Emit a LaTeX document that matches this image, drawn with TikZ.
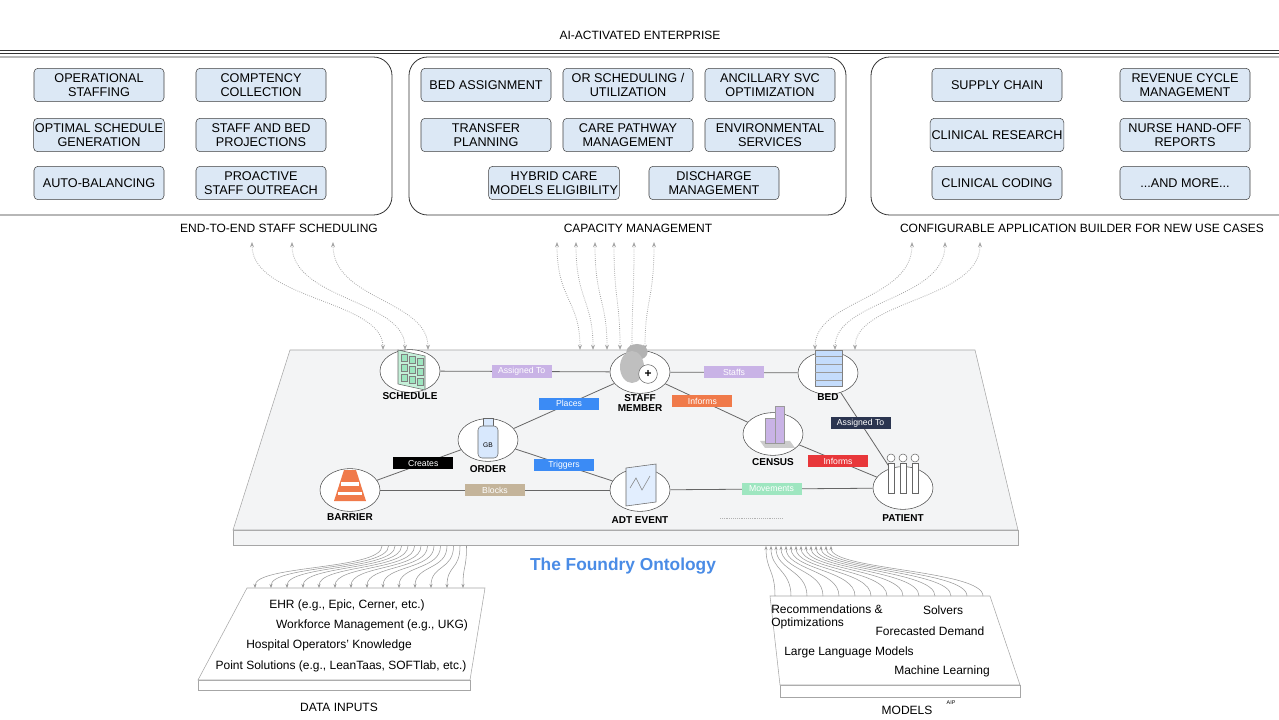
\documentclass[tikz,border=0pt]{standalone}
\usepackage{fontspec}
\setmainfont{Liberation Sans}
\usetikzlibrary{arrows.meta,shapes.geometric}
\definecolor{boxfill}{HTML}{DCE8F5}
\definecolor{lav}{HTML}{C9B3E6}
\definecolor{bl}{HTML}{3B8BF5}
\definecolor{org}{HTML}{F07A4A}
\definecolor{navy}{HTML}{2B3550}
\definecolor{rd}{HTML}{E8373A}
\definecolor{tan}{HTML}{C4B49A}
\definecolor{mint}{HTML}{9EE6C0}
\definecolor{plat}{HTML}{F3F4F5}
\definecolor{fblue}{HTML}{4A8CE6}
\begin{document}
\begin{tikzpicture}[x=0.75pt,y=-0.75pt,
  app/.style={draw=black!75,fill=boxfill,rounded corners=3pt,minimum width=97.5pt,minimum height=25pt,align=center,font=\fontsize{9.5}{10.5}\selectfont,inner sep=1pt},
  panel/.style={draw=black!80,rounded corners=14pt,line width=0.6pt},
  head/.style={font=\fontsize{9}{10}\selectfont},
  ent/.style={ellipse,draw=black!70,fill=white,minimum width=45pt,minimum height=32pt,inner sep=0pt},
  elab/.style={font=\fontsize{6.5}{7}\selectfont,text=white,fill=#1,inner sep=1.5pt,minimum width=45pt,minimum height=9pt},
  nlab/.style={font=\bfseries\fontsize{7.5}{8}\selectfont,align=center},
  dar/.style={draw=gray!70,densely dotted,line width=0.6pt,-{Stealth[length=4pt]}},
  sar/.style={draw=gray!80,line width=0.4pt,-{Stealth[length=3pt]}},
  link/.style={draw=black!60,line width=0.6pt}]
\useasboundingbox (0,0) rectangle (1279,720);
\fill[white] (0,0) rectangle (1279,720);
% header
\node[head] (title) at (640,35) {AI-ACTIVATED ENTERPRISE};
\draw[black!80] (0,50) -- (1279,50);
\draw[black!80] (0,53) -- (1279,53);
% panels
\draw[panel] (-20,57) rectangle (392,215);
\draw[panel] (409,57) rectangle (846,215);
\draw[panel] (871,57) rectangle (1300,215);
% left boxes
\node[app] (a1) at (99,85) {OPERATIONAL\\STAFFING};
\node[app] (a2) at (261,85) {COMPTENCY\\COLLECTION};
\node[app] (a3) at (99,135) {OPTIMAL SCHEDULE\\GENERATION};
\node[app] (a4) at (261,135) {STAFF AND BED\\PROJECTIONS};
\node[app] (a5) at (99,183) {AUTO-BALANCING};
\node[app] (a6) at (261,183) {PROACTIVE\\STAFF OUTREACH};
% middle boxes
\node[app] (b1) at (486,85) {BED ASSIGNMENT};
\node[app] (b2) at (628,85) {OR SCHEDULING /\\UTILIZATION};
\node[app] (b3) at (770,85) {ANCILLARY SVC\\OPTIMIZATION};
\node[app] (b4) at (486,135) {TRANSFER\\PLANNING};
\node[app] (b5) at (628,135) {CARE PATHWAY\\MANAGEMENT};
\node[app] (b6) at (770,135) {ENVIRONMENTAL\\SERVICES};
\node[app] (b7) at (554,183) {HYBRID CARE\\MODELS ELIGIBILITY};
\node[app] (b8) at (714,183) {DISCHARGE\\MANAGEMENT};
% right boxes
\node[app] (c1) at (997,85) {SUPPLY CHAIN};
\node[app] (c2) at (1185,85) {REVENUE CYCLE\\MANAGEMENT};
\node[app] (c3) at (997,135) {CLINICAL RESEARCH};
\node[app] (c4) at (1185,135) {NURSE HAND-OFF\\REPORTS};
\node[app] (c5) at (997,183) {CLINICAL CODING};
\node[app] (c6) at (1185,183) {...AND MORE...};
% headings
\node[head] (h1) at (279,228) {END-TO-END STAFF SCHEDULING};
\node[head] (h2) at (638,228) {CAPACITY MANAGEMENT};
\node[head] (h3) at (1082,228) {CONFIGURABLE APPLICATION BUILDER FOR NEW USE CASES};
% dotted arrows top
\foreach \xa/\xb in {252/383,292/405,333/428}
  \draw[dar,{Stealth[length=4pt]}-{Stealth[length=4pt]}] (\xa,242) .. controls (\xa,300) and (\xb,300) .. (\xb,350);
\foreach \xa/\xb in {557/580,576/593,595/607,614/620,634/632,654/645}
  \draw[dar,{Stealth[length=4pt]}-{Stealth[length=4pt]}] (\xa,242) .. controls (\xa,300) and (\xb,300) .. (\xb,350);
\foreach \xa/\xb in {912/815,945/835,980/855}
  \draw[dar,{Stealth[length=4pt]}-{Stealth[length=4pt]}] (\xa,242) .. controls (\xa,300) and (\xb,300) .. (\xb,350);
% platform
\draw[gray!70,fill=plat] (233,530) rectangle (1018,545);
\draw[gray!70,fill=plat] (290,350) -- (975,350) -- (1018,530) -- (233,530) -- cycle;
% entities
\node[ent] (sch) at (410,371) {};
\node[ent] (stf) at (640,372) {};
\node[ent] (bed) at (828,373) {};
\node[ent] (ord) at (488,440) {};
\node[ent] (cen) at (773,434) {};
\node[ent] (bar) at (350,490) {};
\node[ent] (adt) at (640,490) {};
\node[ent] (pat) at (903,488) {};
% links
\draw[link] (sch) -- node[elab=lav,pos=0.48]{Assigned To} (stf);
\draw[link] (stf) -- node[elab=lav]{Staffs} (bed);
\draw[link] (ord) -- node[elab=bl,pos=0.55]{Places} (stf);
\draw[link] (stf) -- node[elab=org,pos=0.45]{Informs} (cen);
\draw[link] (bed) -- node[elab=navy,pos=0.4]{Assigned To} (pat);
\draw[link] (bar) -- node[elab=black,pos=0.55]{Creates} (ord);
\draw[link] (ord) -- node[elab=bl,pos=0.5]{Triggers} (adt);
\draw[link] (cen) -- node[elab=rd,pos=0.5]{Informs} (pat);
\draw[link] (bar) -- node[elab=tan,pos=0.5]{Blocks} (adt);
\draw[link] (adt) -- node[elab=mint,pos=0.5]{Movements} (pat);
% icons
\draw[black!60,fill=mint!60] (398,350) -- (425,356) -- (425,390) -- (398,384) -- cycle;
\foreach \i in {0,1,2} \foreach \j in {0,1,2}
  \draw[black!50,fill=mint] ({401+\i*8},{354+\j*10+\i*2}) rectangle ++(6,7);
\fill[gray!60] (637,352) ellipse (8pt and 6pt);
\fill[gray!50] (632,367) ellipse (9pt and 12pt);
\draw[black!60,fill=white] (648,374) circle (7pt);
\node[font=\bfseries\small] (plus) at (648,374) {+};
\draw[black!50,fill=bl!30] (815,350) rectangle (842,386);
\foreach \j in {0,1,2,3} \draw[black!40] (815,{356+\j*8}) -- (842,{356+\j*8});
\draw[black!60,fill=bl!20] (483,418) rectangle (493,426);
\draw[black!60,fill=bl!20,rounded corners=3pt] (478,426) rectangle (498,458);
\node[font=\tiny] (gb) at (488,445) {GB};
\fill[gray!40] (760,441) -- (790,441) -- (795,448) -- (765,448) -- cycle;
\draw[black!40,fill=lav] (765,418) rectangle (775,443);
\draw[black!40,fill=lav] (775,406) rectangle (784,443);
\fill[org] (344,470) -- (356,470) -- (366,501) -- (334,501) -- cycle;
\fill[white] (341,482) rectangle (359,486);
\fill[white] (338,492) rectangle (362,495);
\draw[black!60,fill=bl!15] (626,468) -- (656,464) -- (656,502) -- (626,506) -- cycle;
\draw[black!50] (630,488) -- (636,478) -- (642,490) -- (650,476);
\foreach \k in {0,1,2} {
  \draw[black!60,fill=white] ({891+\k*12},458) circle (3pt);
  \draw[black!60,fill=white] ({888+\k*12},463) rectangle ++(6,30);
}
% entity labels
\node[nlab] (lsch) at (410,396) {SCHEDULE};
\node[nlab] (lstf) at (640,403) {STAFF\\MEMBER};
\node[nlab] (lbed) at (828,397) {BED};
\node[nlab] (lord) at (488,469) {ORDER};
\node[nlab] (lcen) at (773,462) {CENSUS};
\node[nlab] (lbar) at (350,517) {BARRIER};
\node[nlab] (ladt) at (640,520) {ADT EVENT};
\node[nlab] (lpat) at (903,518) {PATIENT};
\draw[gray!60,densely dotted] (720,518) -- (782,518);
% title
\node[font=\bfseries\fontsize{13}{15}\selectfont,text=fblue] (fo) at (623,566) {The Foundry Ontology};
% bottom panels
\draw[gray!70,fill=white] (198,680) rectangle (470,690);
\draw[gray!70,fill=white] (247,588) -- (485,588) -- (470,680) -- (198,680) -- cycle;
\draw[gray!70,fill=white] (780,685) rectangle (1020,697);
\draw[gray!70,fill=white] (770,596) -- (990,596) -- (1020,685) -- (780,685) -- cycle;
\foreach \k in {0,...,13}
  \draw[sar] ({382+\k*6.5},546) .. controls ({382+\k*6.5},570) and ({255+\k*16},565) .. ({255+\k*16},588);
\foreach \k in {0,...,13}
  \draw[sar] ({775+\k*16},596) .. controls ({775+\k*16},570) and ({766+\k*5},570) .. ({766+\k*5},546);
\begin{scope}[font=\fontsize{9}{10}\selectfont]
\node (d1) at (347,605) {EHR (e.g., Epic, Cerner, etc.)};
\node (d2) at (372,625) {Workforce Management (e.g., UKG)};
\node (d3) at (329,645) {Hospital Operators' Knowledge};
\node (d4) at (341,666) {Point Solutions (e.g., LeanTaas, SOFTlab, etc.)};
\node[align=left] (m1) at (827,617) {Recommendations \&\\Optimizations};
\node (m2) at (943,610) {Solvers};
\node (m3) at (930,631) {Forecasted Demand};
\node (m4) at (849,652) {Large Language Models};
\node (m5) at (942,671) {Machine Learning};
\end{scope}
\node[head] (di) at (339,707) {DATA INPUTS};
\node[head] (mo) at (907,710) {MODELS};
\node[font=\fontsize{4}{4}\selectfont] (aip) at (951,703) {AIP};
\end{tikzpicture}
\end{document}
